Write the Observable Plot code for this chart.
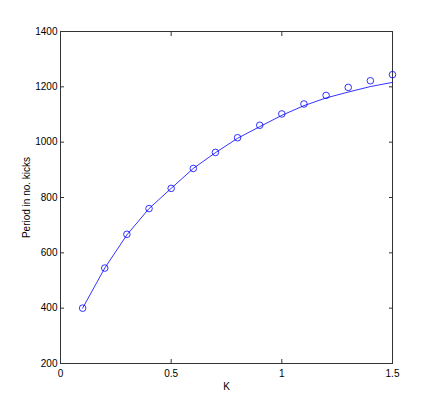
<!DOCTYPE html>
<html>
<head>
<meta charset="utf-8">
<script src="https://cdn.jsdelivr.net/npm/d3@7"></script>
<script src="https://cdn.jsdelivr.net/npm/@observablehq/plot@0.6"></script>
<style>
  html, body { margin: 0; padding: 0; background: #fff; }
</style>
</head>
<body>
<div id="chart"></div>
<script>
// Data
const K = [0.1, 0.2, 0.3, 0.4, 0.5, 0.6, 0.7, 0.8, 0.9, 1.0, 1.1, 1.2, 1.3, 1.4, 1.5];
const periodMeasured = [400, 545, 667, 760, 833, 905, 963, 1016, 1061, 1102, 1138, 1169, 1198, 1222, 1244];
const periodFit = [400, 545, 665, 760, 833, 905, 962, 1014, 1056, 1097, 1132, 1160, 1181, 1201, 1216];
const xTicks = [0, 0.5, 1, 1.5];
const xTickLabels = ["0", "0.5", "1", "1.5"];
const yTicks = [200, 400, 600, 800, 1000, 1200, 1400];
const yTickLabels = ["200", "400", "600", "800", "1000", "1200", "1400"];

const measured = K.map((k, i) => ({K: k, P: periodMeasured[i]}));
const fit = K.map((k, i) => ({K: k, P: periodFit[i]}));

const axisColor = "#333";
const font = "'Liberation Sans', Arial, Helvetica, sans-serif";

const plot = Plot.plot({
  width: 436,
  height: 409,
  marginLeft: 60,
  marginRight: 44,
  marginTop: 31,
  marginBottom: 46,
  style: {fontFamily: font, fontSize: "10px", color: "#000", background: "#fff"},
  x: {domain: [0, 1.5]},
  y: {domain: [200, 1400]},
  marks: [
    Plot.frame({stroke: axisColor, strokeWidth: 1}),
    Plot.axisX({anchor: "bottom", ticks: xTicks, tickFormat: (d, i) => xTickLabels[i], tickSize: -4, tickPadding: 10, stroke: axisColor, label: "K", labelAnchor: "center", labelArrow: "none", labelOffset: 26, fill: "#000"}),
    Plot.axisX({anchor: "top", ticks: xTicks, tickSize: -4, tickFormat: () => "", stroke: axisColor, label: null}),
    Plot.axisY({anchor: "left", ticks: yTicks, tickFormat: (d, i) => yTickLabels[i], tickSize: -4, tickPadding: 7, stroke: axisColor, label: "Period in no. kicks", labelAnchor: "center", labelArrow: "none", labelOffset: 38, fill: "#000"}),
    Plot.axisY({anchor: "right", ticks: yTicks, tickSize: -4, tickFormat: () => "", stroke: axisColor, label: null}),
    Plot.line(fit, {x: "K", y: "P", stroke: "#0000ff", strokeWidth: 0.8}),
    Plot.dot(measured, {x: "K", y: "P", r: 3.3, stroke: "#0000ff", strokeWidth: 0.8, fill: "none"})
  ]
});
document.getElementById("chart").appendChild(plot);
</script>
</body>
</html>
